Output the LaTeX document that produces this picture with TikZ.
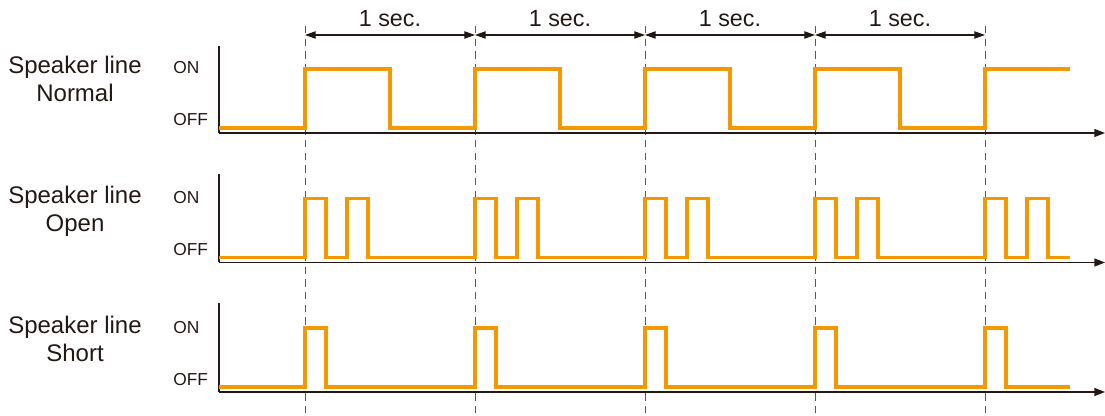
\documentclass[tikz,border=0pt]{standalone}
\usepackage{fontspec}
\setmainfont{Liberation Sans}
\usetikzlibrary{arrows.meta}
\definecolor{sig}{HTML}{F39800}
\definecolor{ink}{HTML}{231815}
\definecolor{guide}{HTML}{595757}
\begin{document}
\begin{tikzpicture}[x=0.75pt,y=-0.75pt,
  signal/.style={draw=sig,line width=2.4pt,line join=miter},
  axisline/.style={draw=ink,line width=1pt},
  guideline/.style={draw=guide,line width=0.7pt,dash pattern=on 5.5pt off 4pt},
  dimline/.style={draw=ink,line width=0.8pt,{Triangle[length=8pt,width=5.5pt]}-{Triangle[length=8pt,width=5.5pt]}},
  rowlabel/.style={text=ink,font=\fontsize{18}{22}\selectfont,anchor=base,inner sep=0pt},
  levellabel/.style={text=ink,font=\fontsize{13}{15}\selectfont,anchor=base west,inner sep=0pt},
  seclabel/.style={text=ink,font=\fontsize{17.5}{20}\selectfont,anchor=base,inner sep=0pt}]
\useasboundingbox (0,0) rectangle (1105,416);

% guide lines and dimension marks
\foreach \i [evaluate=\i as \gx using 305+170*\i] in {0,...,4}{
  \coordinate (gt\i) at (\gx,26);
  \coordinate (gb\i) at (\gx,416);
  \coordinate (d\i) at (\gx,35);
  \draw[guideline] (gt\i) -- (gb\i);
}
\foreach \i [evaluate=\i as \j using int(\i+1), evaluate=\i as \mx using 390+170*\i] in {0,...,3}{
  \draw[dimline] (d\i) -- (d\j);
  \node[seclabel] (sec\i) at (\mx,27) {1 sec.};
}

% panels
\foreach \k/\name in {0/Normal,1/Open,2/Short}{
  \pgfmathsetmacro{\off}{128+129.5*\k}
  \pgfmathsetmacro{\on}{69+129.5*\k}
  \pgfmathsetmacro{\ax}{133+129.5*\k}
  \pgfmathsetmacro{\at}{46+128.5*\k}
  \coordinate (top\k) at (219,\at);
  \coordinate (org\k) at (219,\ax);
  \coordinate (end\k) at (1105,\ax);
  \draw[axisline] (top\k) -- (org\k);
  \draw[axisline,-{Triangle[length=8pt,width=6pt]}] (org\k) -- (end\k);
  \node[rowlabel] (sl\k) at (75,74+129.5*\k) {Speaker line};
  \node[rowlabel] (nm\k) at (75,102+129.5*\k) {\name};
  \node[levellabel] (on\k) at (173,74+129.5*\k) {ON};
  \node[levellabel] (of\k) at (173,126+129.5*\k) {OFF};
}

% Normal
\draw[signal] (219,128)
  \foreach \p in {305,475,645,815} { -- (\p,128) -- (\p,69) -- (\p+85,69) -- (\p+85,128) }
  -- (985,128) -- (985,69) -- (1070,69);

% Open
\draw[signal] (219,257.5)
  \foreach \p in {305,475,645,815,985} { -- (\p,257.5) -- (\p,198.5) -- (\p+21,198.5) -- (\p+21,257.5) -- (\p+42,257.5) -- (\p+42,198.5) -- (\p+63,198.5) -- (\p+63,257.5) }
  -- (1070,257.5);

% Short
\draw[signal] (219,387)
  \foreach \p in {305,475,645,815,985} { -- (\p,387) -- (\p,328) -- (\p+21,328) -- (\p+21,387) }
  -- (1070,387);
\end{tikzpicture}
\end{document}
